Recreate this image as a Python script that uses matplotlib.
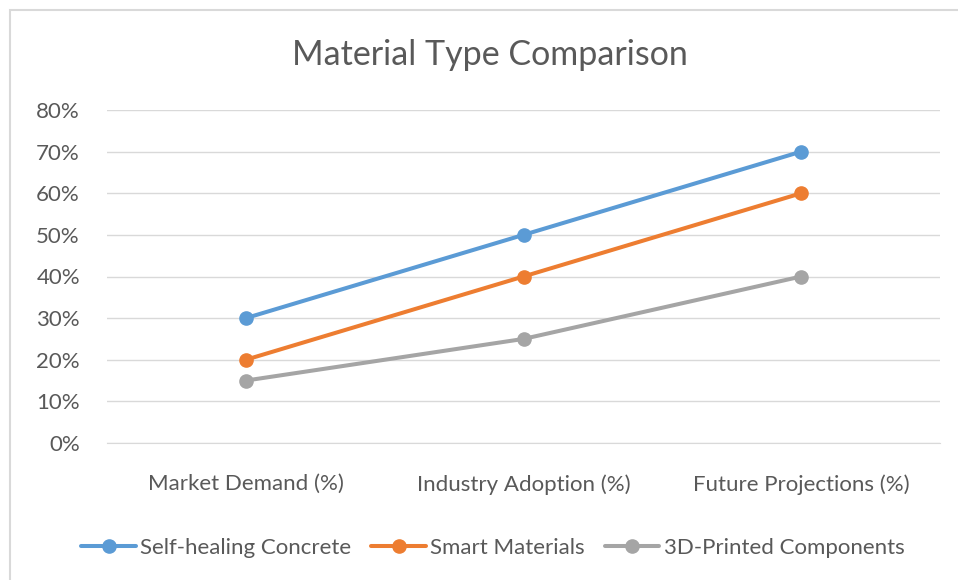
import matplotlib
matplotlib.use("Agg")
import matplotlib.pyplot as plt
from matplotlib.patches import Rectangle
from matplotlib.ticker import FuncFormatter

plt.rcParams['font.family'] = ['Lato', 'DejaVu Sans']

categories = ["Market Demand (%)", "Industry Adoption (%)", "Future Projections (%)"]
series_names = ["Self-healing Concrete", "Smart Materials", "3D-Printed Components"]
self_healing = [30, 50, 70]
smart = [20, 40, 60]
printed3d = [15, 25, 40]
colors = ["#5B9BD5", "#ED7D31", "#A5A5A5"]
yticks = [0, 10, 20, 30, 40, 50, 60, 70, 80]

W, H = 958, 580
fig = plt.figure(figsize=(W/100, H/100), dpi=100)
fig.patches.append(Rectangle((10/W, -0.1), 1.2, 1 - 10/H + 0.1, transform=fig.transFigure,
                             fill=False, edgecolor="#D9D9D9", linewidth=1.5))

ax = fig.add_axes([107/W, 1 - 443/H, (940-107)/W, (443-110)/H])
x = range(len(categories))
for vals, name, c in zip([self_healing, smart, printed3d], series_names, colors):
    ax.plot(x, vals, color=c, linewidth=2.9, marker="o", markersize=9.5, label=name,
            solid_capstyle="round")

ax.set_xlim(-0.5, 2.5)
ax.set_ylim(0, 80)
ax.set_yticks(yticks)
ax.yaxis.set_major_formatter(FuncFormatter(lambda v, p: f"{int(v)}%"))
ax.set_xticks(list(x))
ax.set_xticklabels(categories)
ax.grid(axis="y", color="#D9D9D9", linewidth=1)
ax.set_axisbelow(True)
for s in ["top", "right", "left"]:
    ax.spines[s].set_visible(False)
ax.spines["bottom"].set_color("#D9D9D9")
ax.tick_params(axis="both", length=0, labelsize=16, colors="#595959")
ax.tick_params(axis="y", pad=19.5)
ax.tick_params(axis="x", pad=22.5)

fig.text(490/W, 1 - 55/H, "Material Type Comparison", ha="center", va="center",
         fontsize=24.5, color="#595959")

leg = fig.legend(loc="center", bbox_to_anchor=(493/W, 1 - 548/H), ncol=3, frameon=False,
                 fontsize=16, handlelength=2.45, handletextpad=0.2, columnspacing=0.9,
                 labelcolor="#595959")
plt.savefig("out.png", dpi=100)
